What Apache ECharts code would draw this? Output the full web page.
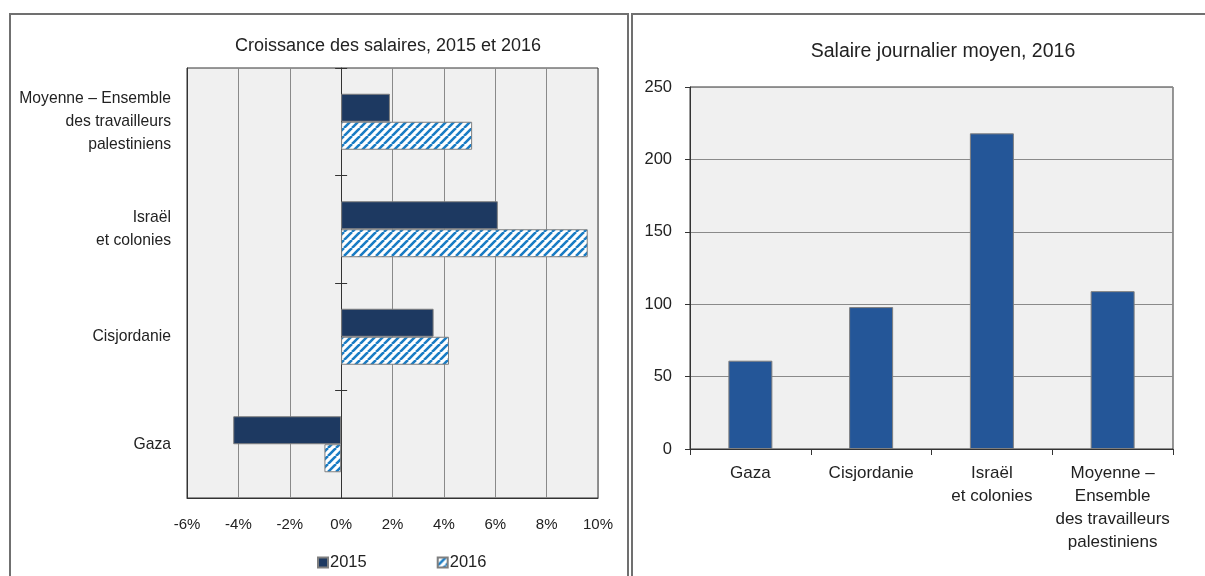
<!DOCTYPE html>
<html><head><meta charset="utf-8">
<script src="https://cdn.jsdelivr.net/npm/echarts@6/dist/echarts.min.js"></script>
<style>html,body{margin:0;padding:0;background:#fff}#c{width:1205px;height:576px}</style>
</head><body><div id="c"></div>
<script>
const categories = ['Gaza', 'Cisjordanie', 'Israël\net colonies', 'Moyenne – Ensemble\ndes travailleurs\npalestiniens'];
const categoriesRight = ['Gaza', 'Cisjordanie', 'Israël\net colonies', 'Moyenne –\nEnsemble\ndes travailleurs\npalestiniens'];
const growth2015 = [-4.2, 3.6, 6.1, 1.9];
const growth2016 = [-0.65, 4.2, 9.6, 5.1];
const dailyWage2016 = [61, 98, 218, 109];
const growthTicks = { min: -6, max: 10, interval: 2 };
const wageTicks = { min: 0, max: 250, interval: 50 };

const FONT = "'Liberation Sans', Arial, sans-serif";

const LEFT_GRID = { left: 187, right: 607 };
const leftPlotWidth = 1205 - LEFT_GRID.left - LEFT_GRID.right;
const zeroOffset = -leftPlotWidth * (0 - growthTicks.min) / (growthTicks.max - growthTicks.min);

// hatch pattern
const pc = document.createElement('canvas');
pc.width = 8; pc.height = 8;
const px = pc.getContext('2d');
px.fillStyle = '#ffffff'; px.fillRect(0, 0, 8, 8);
px.strokeStyle = '#1a7cc4'; px.lineWidth = 2.6;
px.beginPath();
for (let k = -8; k <= 16; k += 8) { px.moveTo(k, 8); px.lineTo(k + 8, 0); }
px.stroke();
const hatch = { image: pc, repeat: 'repeat' };

const chart = echarts.init(document.getElementById('c'), null, { renderer: 'canvas' });
chart.setOption({
  animation: false,
  textStyle: { fontFamily: FONT, color: '#222' },
  title: [
    { text: 'Croissance des salaires, 2015 et 2016', left: 383, top: 32, textAlign: 'center',
      textStyle: { fontFamily: FONT, fontSize: 18, fontWeight: 'normal', color: '#222' } },
    { text: 'Salaire journalier moyen, 2016', left: 938, top: 37, textAlign: 'center',
      textStyle: { fontFamily: FONT, fontSize: 19.5, fontWeight: 'normal', color: '#222' } }
  ],
  legend: {
    left: 312, top: 549, itemWidth: 10, itemHeight: 10, itemGap: 70,
    textStyle: { fontFamily: FONT, fontSize: 16.5, color: '#222', padding: [0, 0, 0, -3] },
    data: [{ name: '2015', icon: 'rect' }, { name: '2016', icon: 'rect' }]
  },
  graphic: [
    { type: 'rect', shape: { x: 10, y: 14, width: 618, height: 600 }, style: { fill: 'none', stroke: '#707070', lineWidth: 2 }, silent: true, z: -10 },
    { type: 'rect', shape: { x: 632, y: 14, width: 600, height: 600 }, style: { fill: 'none', stroke: '#707070', lineWidth: 2 }, silent: true, z: -10 }
  ],
  grid: [
    { left: LEFT_GRID.left, right: LEFT_GRID.right, top: 68, bottom: 78, show: true, backgroundColor: '#f0f0f0', borderColor: '#333', borderWidth: 1, outerBoundsMode: 'none', containLabel: false },
    { left: 690, right: 32, top: 87, bottom: 127, show: true, backgroundColor: '#f0f0f0', borderColor: '#333', borderWidth: 1, outerBoundsMode: 'none', containLabel: false }
  ],
  xAxis: [
    { type: 'value', gridIndex: 0, min: growthTicks.min, max: growthTicks.max, interval: growthTicks.interval,
      axisLine: { show: true, lineStyle: { color: '#333' } }, axisTick: { show: false },
      axisLabel: { formatter: '{value}%', fontFamily: FONT, fontSize: 15, color: '#222', margin: 19 },
      splitLine: { show: true, lineStyle: { color: '#8a8a8a', width: 1 } } },
    { type: 'category', gridIndex: 1, data: categoriesRight,
      axisLine: { show: true, lineStyle: { color: '#333' } },
      axisTick: { show: true, length: 6, lineStyle: { color: '#333' } },
      axisLabel: { fontFamily: FONT, fontSize: 17, color: '#222', lineHeight: 23, margin: 13, interval: 0 } }
  ],
  yAxis: [
    { type: 'category', gridIndex: 0, data: categories,
      axisLine: { show: true, onZero: false, lineStyle: { color: '#333' } }, axisTick: { show: false },
      axisLabel: { fontFamily: FONT, fontSize: 15.7, color: '#222', lineHeight: 23, margin: 16, align: 'right', interval: 0 } },
    { type: 'category', gridIndex: 0, data: categories, position: 'left', offset: zeroOffset,
      axisLine: { show: true, onZero: false, lineStyle: { color: '#333' } },
      axisTick: { show: true, length: 6, lineStyle: { color: '#333' } },
      axisLabel: { show: false } },
    { type: 'value', gridIndex: 1, min: wageTicks.min, max: wageTicks.max, interval: wageTicks.interval,
      axisLine: { show: true, lineStyle: { color: '#333' } },
      axisTick: { show: true, length: 5, lineStyle: { color: '#333' } },
      axisLabel: { fontFamily: FONT, fontSize: 16.5, color: '#222', margin: 18 },
      splitLine: { show: true, lineStyle: { color: '#8a8a8a', width: 1 } } },
    { type: 'category', gridIndex: 0, data: categories, position: 'left', offset: zeroOffset,
      axisLine: { show: false, onZero: false },
      axisTick: { show: true, inside: true, length: 6, lineStyle: { color: '#333' } },
      axisLabel: { show: false } }
  ],
  series: [
    { name: '2015', type: 'bar', xAxisIndex: 0, yAxisIndex: 0, data: growth2015,
      barWidth: 28, barGap: '0%',
      itemStyle: { color: '#1d3961', borderColor: '#7f7f7f', borderWidth: 1 } },
    { name: '2016', type: 'bar', xAxisIndex: 0, yAxisIndex: 0, data: growth2016,
      barWidth: 28, barGap: '0%',
      itemStyle: { color: hatch, borderColor: '#7f7f7f', borderWidth: 1 } },
    { name: 'Salaire', type: 'bar', xAxisIndex: 1, yAxisIndex: 2, data: dailyWage2016,
      barWidth: 44,
      itemStyle: { color: '#245698', borderColor: '#7f7f7f', borderWidth: 1 } }
  ]
});
</script></body></html>
